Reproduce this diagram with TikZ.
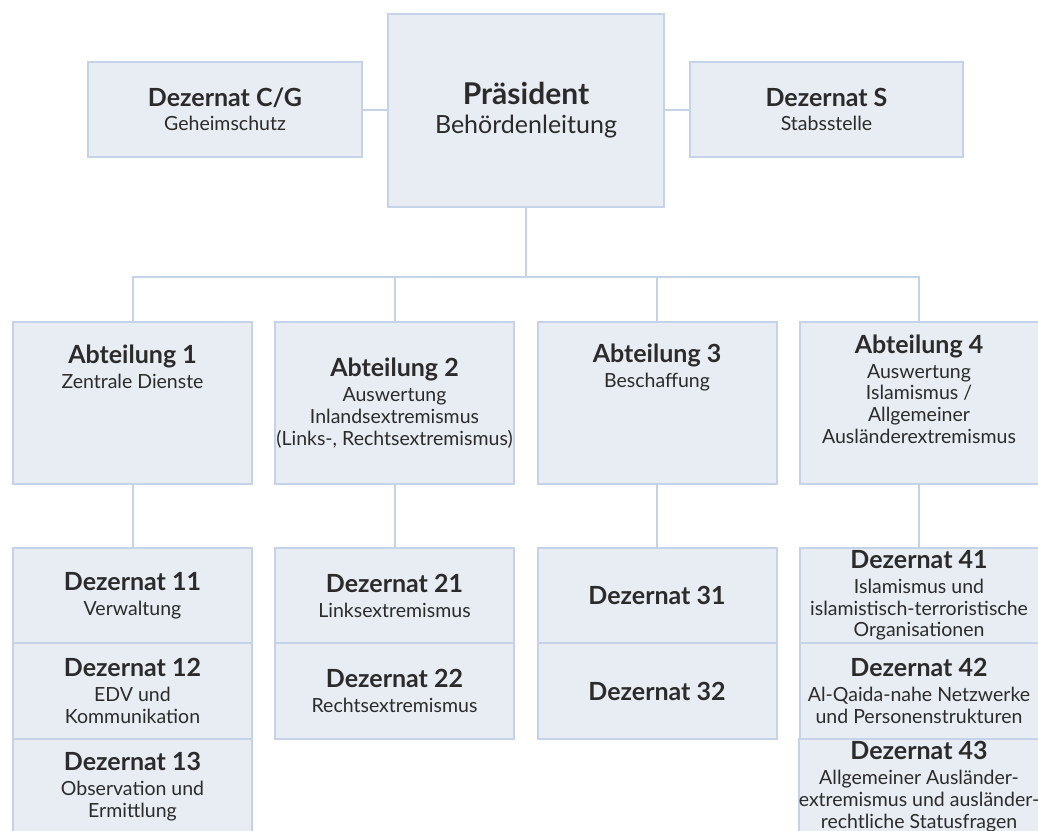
\documentclass[tikz,border=0pt]{standalone}
\usepackage{fontspec}
\setmainfont{Lato}
\usetikzlibrary{calc,positioning}

\definecolor{boxfill}{RGB}{232,237,244}
\definecolor{boxline}{RGB}{197,211,232}
\definecolor{ink}{RGB}{43,43,43}
\newcommand{\hd}[1]{{\fontsize{25}{25}\selectfont\bfseries #1}}

\tikzset{
    unit/.style={draw=boxline, fill=boxfill, line width=2pt, outer sep=0pt, inner sep=0pt,
        minimum width=239pt, minimum height=95.5pt, text=ink, align=center,
        font=\fontsize{19.5}{21.7}\selectfont},
    caption/.style={text=ink, align=center, inner sep=0pt, font=\fontsize{19.5}{21.7}\selectfont},
    link/.style={draw=boxline, line width=2pt},
}

\begin{document}
\begin{tikzpicture}[x=1pt,y=-1pt]
    \useasboundingbox (0,0) rectangle (1038,830);
    \clip (0,0) rectangle (1038,830);

    \node [unit, minimum width=276pt, minimum height=193pt, font=\fontsize{25}{26}\selectfont] (pres) at (526,110.5)
        {{\fontsize{30}{30}\selectfont\bfseries Präsident}\\[3pt]Behördenleitung};
    \node [unit, minimum width=274pt] (dezcg) at (225,109.5) {\hd{Dezernat C/G}\\[2.3pt]Geheimschutz};
    \node [unit, minimum width=273pt] (dezs) at (826.5,109.5) {\hd{Dezernat S}\\[2.3pt]Stabsstelle};

    \node [unit, minimum height=162pt] (abt1) at (132.5,403) {};
    \node [unit, minimum height=162pt] (abt2) at (394.5,403) {};
    \node [unit, minimum height=162pt] (abt3) at (657,403) {};
    \node [unit, minimum height=162pt] (abt4) at (919,403) {};
    \node [caption, yshift=36pt] (abt1t) at (abt1) {\hd{Abteilung 1}\\[3.3pt]Zentrale Dienste};
    \node [caption] (abt2t) at (abt2) {\hd{Abteilung 2}\\[3.3pt]Auswertung\\Inlandsextremismus\\(Links-, Rechtsextremismus)};
    \node [caption, yshift=36pt] (abt3t) at (abt3) {\hd{Abteilung 3}\\[3.3pt]Beschaffung};
    \node [caption, yshift=14pt] (abt4t) at (abt4) {\hd{Abteilung 4}\\[3.3pt]Auswertung\\Islamismus /\\Allgemeiner\\Ausländerextremismus};

    \node [unit] (dez11) at (132.5,595.5) {\hd{Dezernat 11}\\[3.3pt]Verwaltung};
    \node [unit, below=0pt of dez11] (dez12) {\hd{Dezernat 12}\\[3.3pt]EDV und\\Kommunikation};
    \node [unit, below=0pt of dez12] (dez13) {\hd{Dezernat 13}\\[3.3pt]Observation und\\Ermittlung};
    \node [unit] (dez21) at (394.5,595.5) {\hd{Dezernat 21}\\[3.3pt]Linksextremismus};
    \node [unit, below=0pt of dez21] (dez22) {\hd{Dezernat 22}\\[3.3pt]Rechtsextremismus};
    \node [unit] (dez31) at (657,595.5) {\hd{Dezernat 31}};
    \node [unit, below=0pt of dez31] (dez32) {\hd{Dezernat 32}};
    \node [unit] (dez41) at (919,595.5) {\hd{Dezernat 41}\\[3.3pt]Islamismus und\\islamistisch-terroristische\\Organisationen};
    \node [unit, below=0pt of dez41] (dez42) {\hd{Dezernat 42}\\[3.3pt]Al-Qaida-nahe Netzwerke\\und Personenstrukturen};
    \node [unit, below=0pt of dez42] (dez43) {\hd{Dezernat 43}\\[3.3pt]Allgemeiner Ausländer-\\extremismus und ausländer-\\rechtliche Statusfragen};

    \coordinate (bus) at (526,277);
    \draw [link] (dezcg.east) -- (dezcg.east -| pres.west);
    \draw [link] (dezs.west) -- (dezs.west -| pres.east);
    \draw [link] (pres.south) -- (bus);
    \draw [link] (abt1.north) |- (bus) -| (abt4.north);
    \draw [link] (abt2.north) -- (abt2.north |- bus);
    \draw [link] (abt3.north) -- (abt3.north |- bus);
    \draw [link] (abt1.south) -- (dez11.north);
    \draw [link] (abt2.south) -- (dez21.north);
    \draw [link] (abt3.south) -- (dez31.north);
    \draw [link] (abt4.south) -- (dez41.north);
\end{tikzpicture}
\end{document}
